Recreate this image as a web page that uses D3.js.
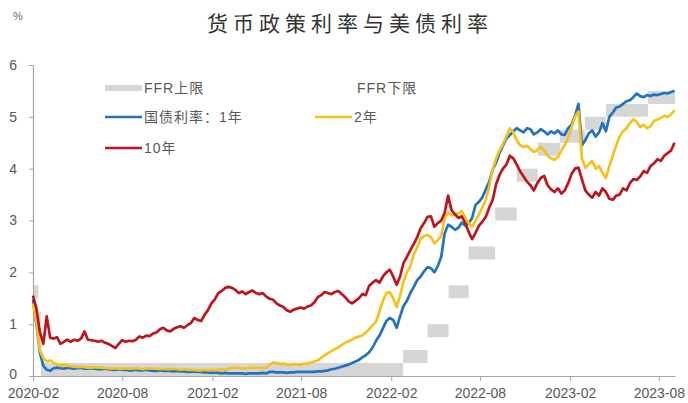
<!DOCTYPE html>
<html>
<head>
<meta charset="utf-8">
<script src="https://cdn.jsdelivr.net/npm/d3@7"></script>
<style>
  html, body { margin: 0; padding: 0; background: #fff; }
  svg { display: block; }
</style>
</head>
<body>
<svg id="chart" width="688" height="403"></svg>
<script>
// Weekly readings starting 2020-02-01 (one value per week)
const seriesStart = "2020-02-01";
const stepDays = 7;

// US Treasury yield, 1 year (%)
const t1y = [
  1.48, 1.00, 0.45, 0.20, 0.12, 0.10, 0.15, 0.16, 0.15, 0.14,
  0.16, 0.15, 0.14, 0.15, 0.16, 0.14, 0.14, 0.15, 0.14, 0.13,
  0.13, 0.14, 0.13, 0.12, 0.12, 0.13, 0.12, 0.12, 0.11, 0.11,
  0.12, 0.11, 0.11, 0.12, 0.11, 0.10, 0.10, 0.11, 0.10, 0.10,
  0.10, 0.09, 0.10, 0.09, 0.09, 0.08, 0.08, 0.09, 0.08, 0.08,
  0.07, 0.07, 0.06, 0.07, 0.06, 0.05, 0.06, 0.05, 0.05, 0.05,
  0.05, 0.05, 0.04, 0.05, 0.05, 0.05, 0.05, 0.06, 0.05, 0.08,
  0.08, 0.07, 0.07, 0.07, 0.06, 0.07, 0.07, 0.08, 0.08, 0.08,
  0.08, 0.08, 0.08, 0.09, 0.09, 0.10, 0.11, 0.13, 0.14, 0.16,
  0.18, 0.20, 0.22, 0.25, 0.28, 0.31, 0.36, 0.40, 0.46, 0.55,
  0.68, 0.78, 0.92, 1.06, 1.12, 1.08, 0.93, 1.15, 1.35, 1.45,
  1.60, 1.72, 1.85, 1.92, 2.02, 2.10, 2.08, 2.00, 2.12, 2.30,
  2.75, 2.92, 2.88, 2.82, 2.86, 2.96, 2.90, 2.95, 3.05, 3.30,
  3.36, 3.45, 3.60, 3.75, 3.98, 4.12, 4.30, 4.45, 4.58, 4.65,
  4.72, 4.78, 4.74, 4.70, 4.78, 4.76, 4.66, 4.70, 4.76, 4.72,
  4.66, 4.72, 4.68, 4.74, 4.66, 4.65, 4.78, 4.85, 5.02, 5.25,
  4.45, 4.55, 4.68, 4.74, 4.62, 4.70, 4.88, 4.72, 5.00, 5.08,
  5.18, 5.20, 5.25, 5.30, 5.32, 5.38, 5.45, 5.40, 5.38, 5.42,
  5.40, 5.43, 5.42, 5.44, 5.46, 5.45, 5.48, 5.50
];

// US Treasury yield, 2 year (%)
const t2y = [
  1.40, 1.05, 0.50, 0.35, 0.28, 0.30, 0.25, 0.22, 0.20, 0.22,
  0.20, 0.19, 0.18, 0.17, 0.18, 0.17, 0.16, 0.16, 0.17, 0.16,
  0.16, 0.15, 0.15, 0.14, 0.15, 0.14, 0.14, 0.15, 0.14, 0.14,
  0.15, 0.14, 0.13, 0.14, 0.15, 0.14, 0.14, 0.13, 0.14, 0.13,
  0.13, 0.14, 0.13, 0.12, 0.13, 0.12, 0.12, 0.12, 0.11, 0.11,
  0.12, 0.11, 0.12, 0.11, 0.12, 0.13, 0.12, 0.14, 0.16, 0.15,
  0.16, 0.14, 0.15, 0.16, 0.15, 0.16, 0.15, 0.15, 0.16, 0.22,
  0.26, 0.25, 0.23, 0.24, 0.22, 0.21, 0.23, 0.22, 0.22, 0.24,
  0.24, 0.26, 0.28, 0.30, 0.35, 0.40, 0.44, 0.48, 0.52, 0.55,
  0.60, 0.64, 0.67, 0.70, 0.74, 0.76, 0.78, 0.84, 0.90, 0.98,
  1.05, 1.25, 1.45, 1.60, 1.62, 1.50, 1.33, 1.55, 1.82, 2.00,
  2.12, 2.35, 2.48, 2.65, 2.70, 2.72, 2.68, 2.56, 2.62, 2.70,
  3.05, 3.15, 3.10, 3.12, 3.14, 3.18, 3.05, 2.95, 2.88, 3.00,
  3.12, 3.25, 3.40, 3.65, 3.98, 4.20, 4.35, 4.48, 4.62, 4.78,
  4.70, 4.55, 4.45, 4.42, 4.44, 4.38, 4.32, 4.36, 4.42, 4.35,
  4.25, 4.20, 4.17, 4.22, 4.35, 4.45, 4.60, 4.80, 5.00, 5.10,
  4.20, 4.02, 4.08, 4.15, 4.00, 4.05, 3.92, 3.82, 4.05, 4.25,
  4.45, 4.62, 4.72, 4.78, 4.88, 4.95, 4.90, 4.80, 4.85, 4.78,
  4.82, 4.92, 4.95, 4.98, 5.02, 5.00, 5.05, 5.13
];

// US Treasury yield, 10 year (%)
const t10y = [
  1.55, 1.30, 0.85, 0.62, 1.15, 0.74, 0.72, 0.75, 0.62, 0.66,
  0.70, 0.66, 0.70, 0.68, 0.72, 0.86, 0.70, 0.69, 0.68, 0.66,
  0.68, 0.64, 0.62, 0.58, 0.54, 0.62, 0.69, 0.66, 0.68, 0.67,
  0.70, 0.76, 0.74, 0.78, 0.77, 0.82, 0.84, 0.90, 0.93, 0.88,
  0.86, 0.91, 0.94, 0.96, 0.93, 0.98, 1.02, 1.12, 1.08, 1.06,
  1.18, 1.27, 1.40, 1.48, 1.60, 1.64, 1.70, 1.72, 1.70, 1.66,
  1.60, 1.63, 1.58, 1.62, 1.65, 1.60, 1.58, 1.60, 1.53, 1.49,
  1.47, 1.40, 1.36, 1.33, 1.27, 1.24, 1.28, 1.30, 1.32, 1.30,
  1.34, 1.36, 1.42, 1.52, 1.56, 1.62, 1.60, 1.58, 1.62, 1.64,
  1.58, 1.52, 1.44, 1.40, 1.45, 1.50, 1.58, 1.56, 1.74, 1.80,
  1.85, 1.80, 1.92, 2.00, 2.05, 1.92, 1.76, 1.92, 2.18, 2.30,
  2.43, 2.55, 2.68, 2.85, 2.95, 3.07, 3.08, 2.88, 2.95, 3.00,
  3.15, 3.48, 3.20, 3.12, 3.05, 3.08, 2.95, 2.78, 2.64, 2.76,
  2.90, 2.98, 3.07, 3.25, 3.40, 3.70, 3.88, 4.00, 4.08, 4.25,
  4.20, 4.08, 3.95, 3.85, 3.75, 3.68, 3.58, 3.72, 3.82, 3.86,
  3.68, 3.60, 3.55, 3.62, 3.52, 3.58, 3.72, 3.90, 4.00, 4.02,
  3.80, 3.58, 3.50, 3.44, 3.55, 3.48, 3.62, 3.55, 3.42, 3.40,
  3.48, 3.50, 3.62, 3.58, 3.72, 3.80, 3.78, 3.85, 3.95, 3.92,
  4.05, 4.10, 4.18, 4.15, 4.25, 4.30, 4.35, 4.50
];

// Federal funds target range: dates where the range changes
const ffrDates = [
  "2020-02-01", "2020-02-12", "2020-02-17", "2022-02-25", "2022-04-16",
  "2022-05-29", "2022-07-09", "2022-09-01", "2022-10-15", "2022-11-27",
  "2023-01-11", "2023-03-03", "2023-04-15", "2023-07-10", "2023-09-03"
];
const ffrUpper = [1.75, 1.25, 0.25, 0.50, 1.00, 1.75, 2.50, 3.25, 4.00, 4.50, 4.75, 5.00, 5.25, 5.50, 5.50];
const ffrLower = [1.50, 1.00, 0.00, 0.25, 0.75, 1.50, 2.25, 3.00, 3.75, 4.25, 4.50, 4.75, 5.00, 5.25, 5.25];

// Axis ticks
const xTickLabels = ["2020-02", "2020-08", "2021-02", "2021-08", "2022-02", "2022-08", "2023-02", "2023-08"];
const yTicks = [0, 1, 2, 3, 4, 5, 6];

const titleText = "货币政策利率与美债利率";
const colors = { t1y: "#2272c3", t2y: "#f5c21b", t10y: "#c0141c", ffr: "#d6d6d6" };

const parse = d3.timeParse("%Y-%m-%d");
const parseMonth = d3.timeParse("%Y-%m");
const startDate = parse(seriesStart);
const dates = t1y.map((_, i) => d3.timeDay.offset(startDate, i * stepDays));

const svg = d3.select("#chart");

const x = d3.scaleTime()
  .domain([startDate, parse("2023-09-03")])
  .range([33, 675]);
const y = d3.scaleLinear().domain([0, 6]).range([376, 65]);

// Fed funds range band
const ffr = ffrDates.map((d, i) => ({ date: parse(d), lo: ffrLower[i], hi: ffrUpper[i] }));
svg.append("path")
  .datum(ffr)
  .attr("fill", colors.ffr)
  .attr("d", d3.area()
    .curve(d3.curveStepAfter)
    .x(d => x(d.date))
    .y0(d => y(d.lo))
    .y1(d => y(d.hi)));

// Axes
const xAxis = d3.axisBottom(x)
  .tickValues(xTickLabels.map(parseMonth))
  .tickFormat(d3.timeFormat("%Y-%m"))
  .tickSize(5)
  .tickPadding(7)
  .tickSizeOuter(0);
const gx = svg.append("g").attr("transform", "translate(0,376)").call(xAxis);

const yAxis = d3.axisLeft(y)
  .tickValues(yTicks)
  .tickFormat(d3.format("d"))
  .tickSize(4)
  .tickPadding(12)
  .tickSizeOuter(0);
const gy = svg.append("g").attr("transform", "translate(33,0)").call(yAxis);

[gx, gy].forEach(g => {
  g.select(".domain").attr("stroke", "#a6a6a6").attr("stroke-width", 1.2);
  g.selectAll(".tick line").attr("stroke", "#a6a6a6");
  g.selectAll(".tick text")
    .attr("fill", "#595959")
    .style("font-family", "'Liberation Sans', Arial, sans-serif")
    .style("font-size", "14px");
});
// keep the zero label clear of the first date label
gy.selectAll(".tick text").filter(d => d === 0).attr("dy", "0.2em");

// Yield lines
const line = d3.line().x((d, i) => x(dates[i])).y(d => y(d));
[["t1y", t1y], ["t2y", t2y], ["t10y", t10y]].forEach(([key, vals]) => {
  svg.append("path")
    .datum(vals)
    .attr("fill", "none")
    .attr("stroke", colors[key])
    .attr("stroke-width", 2.7)
    .attr("stroke-linejoin", "round")
    .attr("d", line);
});

// Title and unit
svg.append("text")
  .attr("x", 350).attr("y", 31)
  .attr("text-anchor", "middle")
  .attr("fill", "#333")
  .style("font-family", "'Noto Sans CJK SC', sans-serif")
  .style("font-size", "21px")
  .style("letter-spacing", "5px")
  .text(titleText);

svg.append("text")
  .attr("x", 18).attr("y", 20)
  .attr("text-anchor", "middle")
  .attr("fill", "#666")
  .style("font-family", "'Liberation Sans', sans-serif")
  .style("font-size", "11px")
  .text("%");

// Legend
const legendItems = [
  { label: "FFR上限", color: colors.ffr, width: 6, x: 105, y: 88 },
  { label: "FFR下限", color: "#ffffff", width: 6, x: 318, y: 88 },
  { label: "国债利率：1年", color: colors.t1y, width: 2.6, x: 105, y: 117 },
  { label: "2年", color: colors.t2y, width: 2.6, x: 315, y: 117 },
  { label: "10年", color: colors.t10y, width: 2.6, x: 105, y: 148 }
];
const lg = svg.append("g");
legendItems.forEach(it => {
  lg.append("line")
    .attr("x1", it.x).attr("x2", it.x + 37)
    .attr("y1", it.y).attr("y2", it.y)
    .attr("stroke", it.color)
    .attr("stroke-width", it.width);
  lg.append("text")
    .attr("x", it.x + 39).attr("y", it.y)
    .attr("dy", "0.35em")
    .attr("fill", "#595959")
    .style("font-family", "'Liberation Sans', 'Noto Sans CJK SC', sans-serif")
    .style("font-size", "14px")
    .style("letter-spacing", "1px")
    .text(it.label);
});
</script>
</body>
</html>
